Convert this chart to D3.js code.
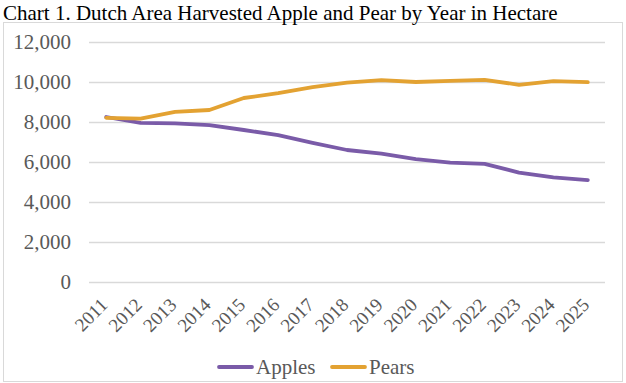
<!DOCTYPE html>
<html>
<head>
<meta charset="utf-8">
<script src="https://cdn.jsdelivr.net/npm/d3@7"></script>
<style>
body{margin:0;background:#fff;}
</style>
</head>
<body>
<div id="chart-area"></div>
<script>
var years=["2011","2012","2013","2014","2015","2016","2017","2018","2019","2020","2021","2022","2023","2024","2025"];
var apples=[8250,7960,7930,7840,7600,7340,6960,6600,6420,6140,5970,5910,5470,5230,5090];
var pears=[8210,8170,8510,8600,9200,9440,9740,9970,10090,10000,10060,10110,9860,10040,9990];
var yTicks=[0,2000,4000,6000,8000,10000,12000];
var seriesNames=["Apples","Pears"];
var seriesColors=["#7a5ba8","#e3a232"];

var FONT="Liberation Serif";
var W=626, H=383;
var margin={left:89,right:21,top:42,bottom:101};
var width=W-margin.left-margin.right;
var height=H-margin.top-margin.bottom;

var svg=d3.select("#chart-area").append("svg")
    .attr("width",W)
    .attr("height",H);

// chart frame
svg.append("rect")
    .attr("x",3.5).attr("y",22.5)
    .attr("width",619).attr("height",359)
    .attr("fill","none")
    .attr("stroke","#d9d9d9");

svg.append("text")
    .attr("x",3)
    .attr("y",20)
    .style("font-family",FONT)
    .style("font-size","21px")
    .style("fill","#000")
    .text("Chart 1. Dutch Area Harvested Apple and Pear by Year in Hectare");

var g=svg.append("g")
    .attr("transform","translate("+margin.left+","+margin.top+")");

var x=d3.scalePoint()
    .domain(years)
    .range([0,width])
    .padding(0.5);

var y=d3.scaleLinear()
    .domain([0,12000])
    .range([height,0]);

// gridlines + y labels
var leftAxis=d3.axisLeft(y)
    .tickValues(yTicks)
    .tickSize(-width)
    .tickPadding(18)
    .tickFormat(d3.format(","));

var ya=g.append("g").attr("class","left axis").call(leftAxis);
ya.attr("font-family",null);
ya.select(".domain").remove();
ya.selectAll("line").attr("stroke","#d9d9d9").attr("stroke-width",1.3);
ya.selectAll("text")
    .style("font-family",FONT)
    .style("font-size","21px")
    .style("fill","#595959");

var bottomAxis=d3.axisBottom(x).tickSize(0);
var xa=g.append("g")
    .attr("class","bottom axis")
    .attr("transform","translate(0,"+height+")")
    .call(bottomAxis);
xa.attr("font-family",null);
xa.select(".domain").remove();
xa.selectAll("text")
    .style("font-family",FONT)
    .style("font-size","19px")
    .style("fill","#595959")
    .attr("text-anchor","end")
    .attr("dy","0")
    .attr("transform","translate(0,22) rotate(-45)");

var line=d3.line()
    .x((d,i)=>x(years[i]))
    .y(d=>y(d));

[apples,pears].forEach((vals,i)=>{
    g.append("path")
        .datum(vals)
        .attr("fill","none")
        .attr("stroke",seriesColors[i])
        .attr("stroke-width",3.8)
        .attr("stroke-linejoin","round")
        .attr("stroke-linecap","round")
        .attr("d",line);
});

// legend
var legendX=[218,331];
seriesNames.forEach((n,i)=>{
    var lg=svg.append("g").attr("transform","translate("+legendX[i]+",367)");
    lg.append("line")
        .attr("x1",1).attr("x2",34)
        .attr("y1",0).attr("y2",0)
        .attr("stroke",seriesColors[i])
        .attr("stroke-width",3.8)
        .attr("stroke-linecap","round");
    lg.append("text")
        .attr("x",38)
        .attr("y",7)
        .style("font-family",FONT)
        .style("font-size","21px")
        .style("fill","#595959")
        .text(n);
});
</script>
</body>
</html>
